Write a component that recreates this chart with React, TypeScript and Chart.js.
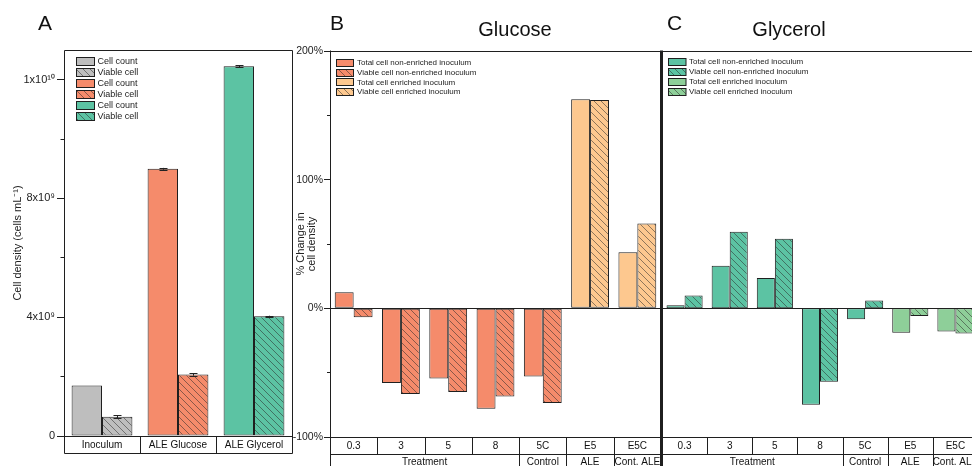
import React, { useEffect, useRef } from 'react';
import { Chart, registerables } from 'chart.js';

Chart.register(...registerables);

const FONT = '"Liberation Sans", Arial, Helvetica, sans-serif';
const INK = '#1f1f1f';

// Panel A: absolute cell density
const densityGroups = ['Inoculum', 'ALE Glucose', 'ALE Glycerol'];
const cellCount = [1.7e9, 9.0e9, 12.45e9];
const cellCountErr = [0, 0.03e9, 0.035e9];
const viableCell = [0.65e9, 2.07e9, 4.03e9];
const viableCellErr = [0.05e9, 0.035e9, 0.02e9];
const densityTickValues = [0, 2e9, 4e9, 6e9, 8e9, 1e10, 1.2e10];
const densityTickLabels = ['0', '', '4x10⁹', '', '8x10⁹', '', '1x10¹⁰'];
const densityLegend = ['Cell count', 'Viable cell', 'Cell count', 'Viable cell', 'Cell count', 'Viable cell'];

// Panels B and C: % change in cell density
const conditions = ['0.3', '3', '5', '8', '5C', 'E5', 'E5C'];
const conditionGroups = ['Treatment', 'Control', 'ALE', 'Cont. ALE'];
const conditionGroupSizes = [4, 1, 1, 1];
const percentTickValues = [-100, -50, 0, 50, 100, 150, 200];
const percentTickLabels = ['-100%', '', '0%', '', '100%', '', '200%'];
const changeLegend = [
  'Total cell non-enriched inoculum',
  'Viable cell non-enriched inoculum',
  'Total cell enriched inoculum',
  'Viable cell enriched inoculum',
];

const glucoseTotalNonEnriched = [12.5, -58, -54.5, -78, -53, null, null];
const glucoseViableNonEnriched = [-7, -66.5, -65, -68.5, -73.5, null, null];
const glucoseTotalEnriched = [null, null, null, null, null, 162.5, 43.5];
const glucoseViableEnriched = [null, null, null, null, null, 162, 66];

const glycerolTotalNonEnriched = [2.3, 33, 23.5, -75, -8.5, null, null];
const glycerolViableNonEnriched = [10, 59.5, 54, -57, 6, null, null];
const glycerolTotalEnriched = [null, null, null, null, null, -19, -18];
const glycerolViableEnriched = [null, null, null, null, null, -6, -19.5];

// palette
const GREY = '#bebebe';
const SALMON = '#f58b6b';
const TEAL = '#5cc3a3';
const PEACH = '#fdc88f';
const MINT = '#8ecf99';

type Fill = string | CanvasPattern;

function makeHatch(color: string): CanvasPattern {
  const s = 7;
  const c = document.createElement('canvas');
  c.width = s;
  c.height = s;
  const g = c.getContext('2d')!;
  g.fillStyle = color;
  g.fillRect(0, 0, s, s);
  g.strokeStyle = 'rgba(40,40,40,0.75)';
  g.lineWidth = 0.7;
  g.beginPath();
  g.moveTo(-1, -1);
  g.lineTo(s + 1, s + 1);
  g.moveTo(-s - 1, -1);
  g.lineTo(1, s + 1);
  g.moveTo(s - 1, -1);
  g.lineTo(2 * s + 1, s + 1);
  g.stroke();
  return g.createPattern(c, 'repeat')!;
}

const px = (v: number) => Math.round(v) + 0.5;

function textPlugin(id: string, items: { text: string; x: number; y: number; size: number; align?: CanvasTextAlign }[]) {
  return {
    id,
    afterDraw(chart: any) {
      const { ctx } = chart;
      ctx.save();
      ctx.fillStyle = '#111';
      ctx.textBaseline = 'alphabetic';
      items.forEach((it) => {
        ctx.font = `${it.size}px ${FONT}`;
        ctx.textAlign = it.align || 'left';
        ctx.fillText(it.text, it.x, it.y);
      });
      ctx.restore();
    },
  };
}

function legendPlugin(
  id: string,
  entries: { text: string; fill: Fill }[],
  box: { dx: number; dy: number; w: number; h: number; step: number; gap: number; size: number }
) {
  return {
    id,
    afterDraw(chart: any) {
      const { ctx, chartArea: a } = chart;
      ctx.save();
      ctx.font = `${box.size}px ${FONT}`;
      ctx.textBaseline = 'middle';
      ctx.textAlign = 'left';
      entries.forEach((e, i) => {
        const cy = a.top + box.dy + i * box.step;
        const x0 = px(a.left + box.dx);
        const y0 = px(cy - box.h / 2);
        ctx.fillStyle = e.fill;
        ctx.fillRect(x0, y0, box.w, box.h);
        ctx.strokeStyle = INK;
        ctx.lineWidth = 1;
        ctx.strokeRect(x0, y0, box.w, box.h);
        ctx.fillStyle = '#222';
        ctx.fillText(e.text, x0 + box.w + box.gap, cy + 0.5);
      });
      ctx.restore();
    },
  };
}

function categoryEdge(x: any, n: number, a: any, i: number) {
  if (i === 0) return a.left;
  if (i === n) return a.right;
  return (x.getPixelForValue(i - 1) + x.getPixelForValue(i)) / 2;
}

// frame, category box and error bars for the density panel
const densityFramePlugin = {
  id: 'densityFrame',
  afterDatasetsDraw(chart: any) {
    const { ctx, chartArea: a, scales } = chart;
    const x = scales.x;
    const y = scales.y;
    const rowBottom = a.bottom + 16.5;
    const n = densityGroups.length;
    ctx.save();

    // error bars
    ctx.strokeStyle = '#222';
    ctx.lineWidth = 1;
    const errs = [cellCountErr, viableCellErr];
    chart.data.datasets.forEach((ds: any, di: number) => {
      const meta = chart.getDatasetMeta(di);
      meta.data.forEach((bar: any, i: number) => {
        const e = errs[di][i];
        if (!e) return;
        const v = ds.data[i];
        const bx = px(bar.x);
        const y1 = y.getPixelForValue(v + e);
        const y2 = y.getPixelForValue(v - e);
        ctx.beginPath();
        ctx.moveTo(bx, y1);
        ctx.lineTo(bx, y2);
        ctx.moveTo(bx - 4, px(y1));
        ctx.lineTo(bx + 4, px(y1));
        ctx.moveTo(bx - 4, px(y2));
        ctx.lineTo(bx + 4, px(y2));
        ctx.stroke();
      });
    });

    ctx.strokeStyle = INK;
    ctx.lineWidth = 1;
    ctx.beginPath();
    const L = px(a.left), R = px(a.right), T = px(a.top), B = px(a.bottom), RB = px(rowBottom);
    ctx.moveTo(L, RB);
    ctx.lineTo(L, T);
    ctx.lineTo(R, T);
    ctx.lineTo(R, RB);
    ctx.lineTo(L, RB);
    ctx.moveTo(L, B);
    ctx.lineTo(R, B);
    for (let i = 1; i < n; i++) {
      const ex = px(categoryEdge(x, n, a, i));
      ctx.moveTo(ex, B);
      ctx.lineTo(ex, RB);
    }
    ctx.stroke();

    ctx.fillStyle = '#111';
    ctx.font = `10px ${FONT}`;
    ctx.textAlign = 'center';
    ctx.textBaseline = 'middle';
    densityGroups.forEach((g, i) => ctx.fillText(g, x.getPixelForValue(i), (a.bottom + rowBottom) / 2 + 0.5));
    ctx.restore();
  },
};

// frame, zero line and two-row condition table for the % change panels
function changeFramePlugin(leftWidth: number, rightWidth: number) {
  return {
    id: 'changeFrame',
    afterDatasetsDraw(chart: any) {
      const { ctx, chartArea: a, scales } = chart;
      const x = scales.x;
      const y = scales.y;
      const H = chart.height;
      const n = conditions.length;
      const row1 = a.bottom + 17;
      const T = px(a.top), B = px(a.bottom), R1 = px(row1);
      ctx.save();
      ctx.strokeStyle = INK;
      ctx.lineWidth = 1;
      ctx.beginPath();
      const z = px(y.getPixelForValue(0));
      ctx.moveTo(a.left, z);
      ctx.lineTo(a.right, z);
      ctx.moveTo(a.left, T);
      ctx.lineTo(a.right, T);
      ctx.moveTo(a.left, B);
      ctx.lineTo(a.right, B);
      ctx.moveTo(a.left, R1);
      ctx.lineTo(a.right, R1);
      for (let i = 1; i < n; i++) {
        const ex = px(categoryEdge(x, n, a, i));
        ctx.moveTo(ex, B);
        ctx.lineTo(ex, R1);
      }
      let acc = 0;
      conditionGroupSizes.slice(0, -1).forEach((s) => {
        acc += s;
        const ex = px(categoryEdge(x, n, a, acc));
        ctx.moveTo(ex, R1);
        ctx.lineTo(ex, H);
      });
      ctx.stroke();

      if (leftWidth) {
        ctx.lineWidth = leftWidth;
        ctx.beginPath();
        ctx.moveTo(a.left + leftWidth / 2, a.top - 0.5);
        ctx.lineTo(a.left + leftWidth / 2, H);
        ctx.stroke();
      }
      if (rightWidth) {
        ctx.lineWidth = rightWidth;
        ctx.beginPath();
        ctx.moveTo(a.right, a.top - 0.5);
        ctx.lineTo(a.right, H);
        ctx.stroke();
      }

      ctx.fillStyle = '#111';
      ctx.font = `10px ${FONT}`;
      ctx.textAlign = 'center';
      ctx.textBaseline = 'middle';
      conditions.forEach((c, i) => ctx.fillText(c, x.getPixelForValue(i), (a.bottom + row1) / 2 + 0.5));
      let start = 0;
      conditionGroups.forEach((g, gi) => {
        const end = start + conditionGroupSizes[gi];
        const cx = (categoryEdge(x, n, a, start) + categoryEdge(x, n, a, end)) / 2;
        ctx.fillText(g, cx, row1 + 8.5);
        start = end;
      });
      ctx.restore();
    },
  };
}

function barStyle(fill: Fill) {
  return {
    backgroundColor: fill,
    borderColor: INK,
    borderWidth: 1,
    borderSkipped: false as const,
    categoryPercentage: 0.8,
    barPercentage: 1,
    skipNull: true,
  };
}

function changeChart(
  canvas: HTMLCanvasElement,
  series: (number | null)[][],
  fills: Fill[],
  withAxis: boolean,
  extraPlugins: any[]
) {
  return new Chart(canvas, {
    type: 'bar',
    data: {
      labels: conditions,
      datasets: series.map((d, i) => ({ label: changeLegend[i], data: d, ...barStyle(fills[i]) })) as any,
    },
    options: {
      responsive: false,
      animation: false,
      events: [],
      layout: { padding: { top: 51, bottom: 29, left: 0, right: withAxis ? 1 : 0 } },
      plugins: { legend: { display: false }, tooltip: { enabled: false } },
      scales: {
        x: { display: false },
        y: {
          display: withAxis,
          min: -100,
          max: 200,
          afterBuildTicks: (s: any) => {
            s.ticks = percentTickValues.map((v) => ({ value: v }));
          },
          afterFit: (s: any) => {
            s.width = withAxis ? 40 : 0;
          },
          border: { display: false },
          grid: {
            drawOnChartArea: false,
            tickLength: 6,
            tickColor: INK,
            tickBorderDash: (c: any) => (percentTickLabels[c.index] ? [] : [0, 3, 4, 20]),
          },
          ticks: {
            autoSkip: false,
            color: '#222',
            padding: 1,
            font: { family: FONT, size: 10.5 },
            callback: (_v: any, i: number) => percentTickLabels[i],
          },
          title: {
            display: true,
            text: ['% Change in', 'cell density'],
            color: '#222',
            font: { family: FONT, size: 11, lineHeight: 1 },
            padding: { top: 5.5, bottom: 0 },
          },
        },
      },
    } as any,
    plugins: extraPlugins,
  });
}

export default function App() {
  const aRef = useRef<HTMLCanvasElement>(null);
  const bRef = useRef<HTMLCanvasElement>(null);
  const cRef = useRef<HTMLCanvasElement>(null);

  useEffect(() => {
    const densityFills: Fill[] = [GREY, SALMON, TEAL];
    const densityHatch: Fill[] = [makeHatch(GREY), makeHatch(SALMON), makeHatch(TEAL)];

    const chartA = new Chart(aRef.current!, {
      type: 'bar',
      data: {
        labels: densityGroups,
        datasets: [
          { label: 'Cell count', data: cellCount, ...barStyle(densityFills as any) },
          { label: 'Viable cell', data: viableCell, ...barStyle(densityHatch as any) },
        ] as any,
      },
      options: {
        responsive: false,
        animation: false,
        events: [],
        layout: { padding: { top: 50, bottom: 30, left: 0, right: 2 } },
        plugins: { legend: { display: false }, tooltip: { enabled: false } },
        scales: {
          x: { display: false },
          y: {
            min: 0,
            max: 1.3e10,
            afterBuildTicks: (s: any) => {
              s.ticks = densityTickValues.map((v) => ({ value: v }));
            },
            afterFit: (s: any) => {
              s.width = 64;
            },
            border: { display: false },
            grid: {
              drawOnChartArea: false,
              tickLength: 7,
              tickColor: INK,
              tickBorderDash: (c: any) => (densityTickLabels[c.index] ? [] : [0, 3.5, 4, 20]),
            },
            ticks: {
              autoSkip: false,
              color: '#222',
              padding: 2,
              font: { family: FONT, size: 11 },
              callback: (_v: any, i: number) => densityTickLabels[i],
            },
            title: {
              display: true,
              text: 'Cell density (cells mL⁻¹)',
              color: '#222',
              font: { family: FONT, size: 11, lineHeight: 1 },
              padding: { top: 12, bottom: 0 },
            },
          },
        },
      } as any,
      plugins: [
        densityFramePlugin,
        legendPlugin(
          'densityLegend',
          densityLegend.map((t, i) => ({ text: t, fill: i % 2 ? densityHatch[i >> 1] : densityFills[i >> 1] })),
          { dx: 12, dy: 11.3, w: 18, h: 8, step: 10.85, gap: 3, size: 9 }
        ),
        textPlugin('densityTitle', [{ text: 'A', x: 38, y: 30, size: 21 }]),
      ],
    });

    const glucoseFills: Fill[] = [SALMON, makeHatch(SALMON), PEACH, makeHatch(PEACH)];
    const chartB = changeChart(
      bRef.current!,
      [glucoseTotalNonEnriched, glucoseViableNonEnriched, glucoseTotalEnriched, glucoseViableEnriched],
      glucoseFills,
      true,
      [
        changeFramePlugin(1, 2),
        legendPlugin(
          'glucoseLegend',
          changeLegend.map((t, i) => ({ text: t, fill: glucoseFills[i] })),
          { dx: 6, dy: 11.3, w: 17, h: 7, step: 9.8, gap: 3.5, size: 8 }
        ),
        textPlugin('glucoseTitle', [
          { text: 'B', x: 40, y: 30, size: 21 },
          { text: 'Glucose', x: 225, y: 36, size: 20, align: 'center' },
        ]),
      ]
    );

    const glycerolFills: Fill[] = [TEAL, makeHatch(TEAL), MINT, makeHatch(MINT)];
    const chartC = changeChart(
      cRef.current!,
      [glycerolTotalNonEnriched, glycerolViableNonEnriched, glycerolTotalEnriched, glycerolViableEnriched],
      glycerolFills,
      false,
      [
        changeFramePlugin(1, 0),
        legendPlugin(
          'glycerolLegend',
          changeLegend.map((t, i) => ({ text: t, fill: glycerolFills[i] })),
          { dx: 6.3, dy: 10.2, w: 17.5, h: 7, step: 10, gap: 3, size: 8 }
        ),
        textPlugin('glycerolTitle', [
          { text: 'C', x: 5, y: 30, size: 21 },
          { text: 'Glycerol', x: 127, y: 36, size: 20, align: 'center' },
        ]),
      ]
    );

    return () => {
      chartA.destroy();
      chartB.destroy();
      chartC.destroy();
    };
  }, []);

  const abs = (left: number, width: number): React.CSSProperties => ({
    position: 'absolute',
    left,
    top: 0,
    width,
    height: 466,
  });

  return (
    <div
      style={{
        position: 'fixed',
        left: 0,
        top: 0,
        width: 972,
        height: 466,
        overflow: 'hidden',
        background: '#ffffff',
      }}
    >
      <canvas ref={aRef} width={294} height={466} style={abs(0, 294)} />
      <canvas ref={bRef} width={372} height={466} style={abs(290, 372)} />
      <canvas ref={cRef} width={316} height={466} style={abs(662, 316)} />
    </div>
  );
}
